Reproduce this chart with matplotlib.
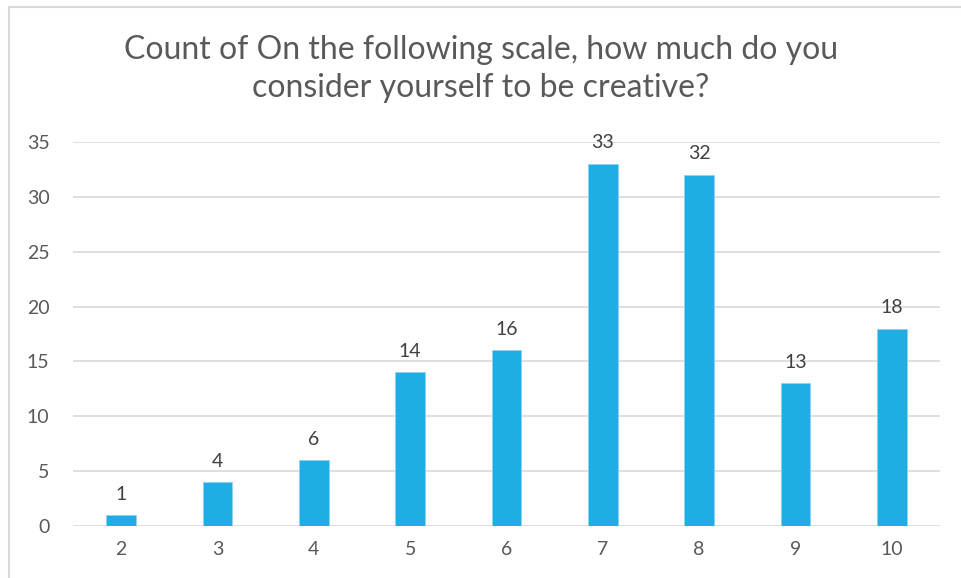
import matplotlib.pyplot as plt
from matplotlib.lines import Line2D

# Data
categories = ['2', '3', '4', '5', '6', '7', '8', '9', '10']
counts = [1, 4, 6, 14, 16, 33, 32, 13, 18]
title = 'Count of On the following scale, how much do you\nconsider yourself to be creative?'

plt.rcParams['font.family'] = ['Lato', 'DejaVu Sans']

fig = plt.figure(figsize=(9.62, 5.78), dpi=100)
ax = fig.add_axes([73 / 962, 1 - 526 / 578, (940 - 73) / 962, (526 - 142) / 578])

x = range(len(categories))
bars = ax.bar(x, counts, width=0.31, color='#1FADE4', edgecolor='#8DD3F0', linewidth=0.6, zorder=3)

ax.set_xlim(-0.5, len(categories) - 0.5)
ax.set_ylim(0, 35)
ax.set_yticks(range(0, 36, 5))
ax.set_xticks(list(x))
ax.set_xticklabels(categories)
ax.yaxis.grid(True, color='#D9D9D9', linewidth=1.2, zorder=0)
ax.tick_params(axis='both', length=0, labelsize=14, colors='#595959')
ax.tick_params(axis='x', pad=11)
ax.tick_params(axis='y', pad=17)
for s in ax.spines.values():
    s.set_visible(False)

# value labels above the bars
for b, v in zip(bars, counts):
    ax.annotate(str(v), (b.get_x() + b.get_width() / 2, v), xytext=(0, 9),
                textcoords='offset points', ha='center', va='bottom',
                fontsize=14, color='#404040')

fig.text(0.5, 1 - 69 / 578, title, ha='center', va='center', fontsize=23,
         color='#595959', linespacing=1.3)

# chart frame (left and top edges visible)
fig.add_artist(Line2D([9 / 962, 9 / 962], [0, 1 - 7 / 578], transform=fig.transFigure,
                      color='#D9D9D9', linewidth=1.5))
fig.add_artist(Line2D([9 / 962, 1], [1 - 7 / 578, 1 - 7 / 578], transform=fig.transFigure,
                      color='#D9D9D9', linewidth=1.5))

fig.savefig('out.png', dpi=100)
